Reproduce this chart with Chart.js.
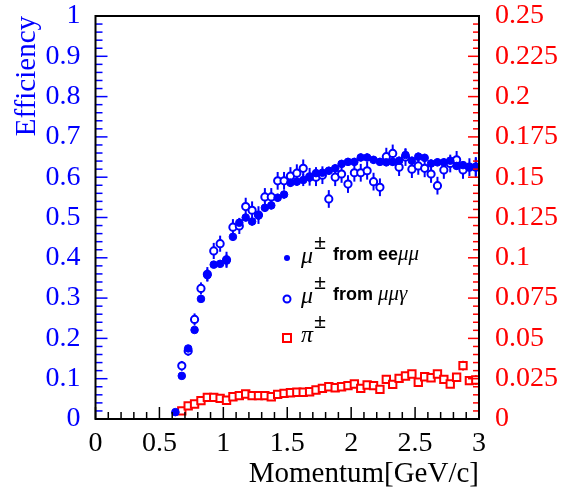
<!DOCTYPE html>
<html>
<head>
<meta charset="utf-8">
<script src="https://cdn.jsdelivr.net/npm/chart.js@4"></script>
<style>
    body { margin: 0; background: #ffffff; }
</style>
</head>
<body>
<canvas id="graphique-efficacite" width="563" height="494"></canvas>
<script>
// Momentum bins (GeV/c)
const momentum = [0.625, 0.675, 0.725, 0.775, 0.825, 0.875, 0.925, 0.975, 1.025, 1.075, 1.125, 1.175,
    1.225, 1.275, 1.325, 1.375, 1.425, 1.475, 1.525, 1.575, 1.625, 1.675, 1.725, 1.775,
    1.825, 1.875, 1.925, 1.975, 2.025, 2.075, 2.125, 2.175, 2.225, 2.275, 2.325, 2.375,
    2.425, 2.475, 2.525, 2.575, 2.625, 2.675, 2.725, 2.775, 2.825, 2.875, 2.925, 2.975];

// mu from ee mu mu (filled circles, left axis)
const muEemumu = [0.017, 0.107, 0.175, 0.221, 0.298, 0.357, 0.383, 0.385, 0.393, 0.452, 0.487, 0.500,
    0.490, 0.505, 0.524, 0.530, 0.549, 0.557, 0.586, 0.589, 0.593, 0.599, 0.610, 0.611,
    0.616, 0.622, 0.633, 0.638, 0.638, 0.649, 0.649, 0.643, 0.638, 0.637, 0.638, 0.641,
    0.655, 0.641, 0.651, 0.648, 0.634, 0.637, 0.637, 0.641, 0.628, 0.630, 0.625, 0.625];
const muEemumuErr = [0.006, 0.008, 0.008, 0.008, 0.008, 0.015, 0.008, 0.008, 0.015, 0.010, 0.010, 0.010,
    0.010, 0.010, 0.010, 0.010, 0.010, 0.010, 0.010, 0.010, 0.015, 0.010, 0.015, 0.010,
    0.010, 0.010, 0.010, 0.010, 0.010, 0.010, 0.010, 0.010, 0.010, 0.010, 0.010, 0.010,
    0.015, 0.010, 0.010, 0.010, 0.010, 0.010, 0.010, 0.010, 0.010, 0.010, 0.010, 0.025];

// mu from mu mu gamma (open circles, left axis)
const muMumugamma = [null, 0.132, 0.169, 0.247, 0.324, 0.359, 0.417, 0.435, 0.395, 0.476, 0.479, 0.527,
    0.518, 0.506, 0.551, 0.551, 0.591, 0.591, 0.603, 0.610, 0.622, 0.601, 0.600, 0.605,
    0.546, 0.600, 0.608, 0.583, 0.611, 0.611, 0.616, 0.589, 0.575, 0.651, 0.659, 0.625,
    0.650, 0.620, 0.628, 0.622, 0.608, 0.579, 0.618, 0.634, 0.643, 0.618, 0.625, 0.625];
const muMumugammaErr = [null, 0.012, 0.012, 0.015, 0.015, 0.018, 0.020, 0.020, 0.020, 0.020, 0.020, 0.022,
    0.022, 0.022, 0.022, 0.022, 0.022, 0.022, 0.022, 0.022, 0.022, 0.022, 0.022, 0.022,
    0.022, 0.022, 0.022, 0.022, 0.022, 0.022, 0.022, 0.022, 0.022, 0.022, 0.022, 0.022,
    0.022, 0.022, 0.022, 0.022, 0.022, 0.022, 0.022, 0.022, 0.022, 0.022, 0.022, 0.022];

// pi (open squares, right axis)
const pion = [null, 0.0050, 0.0081, 0.0093, 0.0114, 0.0134, 0.0134, 0.0128, 0.0116, 0.0138, 0.0145, 0.0155,
    0.0145, 0.0145, 0.0145, 0.0138, 0.0153, 0.0159, 0.0163, 0.0166, 0.0166, 0.0169, 0.0180, 0.0190,
    0.0200, 0.0194, 0.0200, 0.0207, 0.0217, 0.0190, 0.0211, 0.0207, 0.0184, 0.0246, 0.0215, 0.0252,
    0.0267, 0.0279, 0.0228, 0.0262, 0.0256, 0.0279, 0.0246, 0.0217, 0.0259, 0.0331, 0.0238, 0.0242];
const pionErr = [null, 0.001, 0.001, 0.001, 0.001, 0.001, 0.001, 0.001, 0.001, 0.001, 0.001, 0.001,
    0.001, 0.001, 0.001, 0.001, 0.001, 0.001, 0.001, 0.001, 0.001, 0.001, 0.001, 0.001,
    0.001, 0.001, 0.001, 0.001, 0.001, 0.001, 0.001, 0.001, 0.001, 0.001, 0.001, 0.001,
    0.001, 0.001, 0.001, 0.001, 0.001, 0.001, 0.001, 0.001, 0.001, 0.003, 0.001, 0.003];

const BLUE = "#0000ff";
const RED = "#ff0000";
const SERIF = "'Liberation Serif', 'Times New Roman', serif";

function points(values) {
    const result = [];
    for (let i = 0; i < momentum.length; i++) {
        if (values[i] !== null) {
            result.push({ x: momentum[i], y: values[i] });
        }
    }
    return result;
}

function tickLabel(value) {
    return String(Math.round(value * 1000) / 1000);
}

// Vertical error bars, drawn under the markers
const errorBarsPlugin = {
    id: "errorBars",
    beforeDatasetsDraw(chart) {
        const ctx = chart.ctx;
        const sets = [
            { values: muEemumu, errors: muEemumuErr, axis: "y", color: BLUE },
            { values: muMumugamma, errors: muMumugammaErr, axis: "y", color: BLUE },
            { values: pion, errors: pionErr, axis: "y2", color: RED },
        ];
        ctx.save();
        ctx.lineWidth = 2;
        for (let s of sets) {
            const scaleY = chart.scales[s.axis];
            ctx.strokeStyle = s.color;
            for (let i = 0; i < momentum.length; i++) {
                if (s.values[i] === null) continue;
                const px = chart.scales.x.getPixelForValue(momentum[i]);
                ctx.beginPath();
                ctx.moveTo(px, scaleY.getPixelForValue(s.values[i] - s.errors[i]));
                ctx.lineTo(px, scaleY.getPixelForValue(s.values[i] + s.errors[i]));
                ctx.stroke();
            }
        }
        ctx.restore();
    }
};

// Frame with inward ticks, ROOT style
const framePlugin = {
    id: "frame",
    afterDraw(chart) {
        const ctx = chart.ctx;
        const area = chart.chartArea;
        const x = chart.scales.x;
        const y = chart.scales.y;
        const y2 = chart.scales.y2;

        function seg(x1, y1, x2, y2b) {
            ctx.beginPath();
            ctx.moveTo(x1, y1);
            ctx.lineTo(x2, y2b);
            ctx.stroke();
        }

        ctx.save();
        ctx.lineWidth = 1.5;

        ctx.strokeStyle = "#000000";
        for (let i = 0; i <= 30; i++) {
            const px = x.getPixelForValue(i * 0.1);
            seg(px, area.bottom, px, area.bottom - (i % 5 === 0 ? 12 : 7));
        }

        ctx.strokeStyle = BLUE;
        for (let i = 0; i <= 50; i++) {
            const py = y.getPixelForValue(i * 0.02);
            seg(area.left, py, area.left + (i % 5 === 0 ? 12 : 7), py);
        }

        ctx.strokeStyle = RED;
        for (let i = 0; i <= 50; i++) {
            const py = y2.getPixelForValue(i * 0.005);
            seg(area.right, py, area.right - (i % 5 === 0 ? 11 : 6), py);
        }

        ctx.lineWidth = 2;
        ctx.strokeStyle = "#000000";
        ctx.strokeRect(area.left, area.top, area.right - area.left, area.bottom - area.top);
        ctx.restore();
    }
};

// Legend with superscripts, drawn by hand
const legendPlugin = {
    id: "legendeMu",
    afterDraw(chart) {
        const ctx = chart.ctx;
        ctx.save();

        ctx.fillStyle = BLUE;
        ctx.beginPath();
        ctx.arc(287, 258, 3, 0, Math.PI * 2);
        ctx.fill();

        ctx.strokeStyle = BLUE;
        ctx.lineWidth = 2;
        ctx.beginPath();
        ctx.arc(287, 299, 3.5, 0, Math.PI * 2);
        ctx.stroke();

        ctx.strokeStyle = RED;
        ctx.strokeRect(283, 334, 8, 8);

        const lignes = [
            { y: 263, sym: "μ", rest: "from ee", tail: "μμ" },
            { y: 303, sym: "μ", rest: "from ", tail: "μμγ" },
            { y: 342, sym: "π", rest: "", tail: "" },
        ];
        ctx.fillStyle = "#000000";
        ctx.textBaseline = "alphabetic";
        for (let l of lignes) {
            ctx.font = "italic 24px " + SERIF;
            ctx.fillText(l.sym, 301, l.y);
            ctx.font = "bold 22px " + SERIF;
            ctx.fillText("±", 314, l.y - 14);
            let cx = 333;
            if (l.rest) {
                ctx.font = "bold 18px 'Liberation Sans', Arial, sans-serif";
                ctx.fillText(l.rest, cx, l.y - 3);
                cx += ctx.measureText(l.rest).width;
                ctx.font = "italic 21px " + SERIF;
                ctx.fillText(l.tail, cx, l.y - 3);
            }
        }
        ctx.restore();
    }
};

const data = {
    datasets: [
        {
            label: "mu from ee mu mu",
            data: points(muEemumu),
            yAxisID: "y",
            pointStyle: "circle",
            pointRadius: 3.8,
            pointBackgroundColor: BLUE,
            pointBorderColor: BLUE,
            pointBorderWidth: 1,
        },
        {
            label: "mu from mu mu gamma",
            data: points(muMumugamma),
            yAxisID: "y",
            pointStyle: "circle",
            pointRadius: 3.6,
            pointBackgroundColor: "#ffffff",
            pointBorderColor: BLUE,
            pointBorderWidth: 2,
        },
        {
            label: "pi",
            data: points(pion),
            yAxisID: "y2",
            pointStyle: "rect",
            pointRadius: 5.2,
            pointBackgroundColor: "#ffffff",
            pointBorderColor: RED,
            pointBorderWidth: 2,
        },
    ],
};

function fixBox(size, horizontal) {
    return function (scale) {
        if (horizontal) {
            scale.height = size;
        } else {
            scale.width = size;
        }
        scale.paddingTop = 0;
        scale.paddingBottom = 0;
        scale.paddingLeft = 0;
        scale.paddingRight = 0;
    };
}

const config = {
    type: "scatter",
    data: data,
    options: {
        responsive: false,
        animation: false,
        layout: { padding: { top: 16, left: 0, right: 0, bottom: 0 } },
        plugins: {
            legend: { display: false },
            tooltip: { enabled: false },
        },
        scales: {
            x: {
                type: "linear",
                min: 0,
                max: 3,
                afterFit: fixBox(75, true),
                grid: { display: false, drawTicks: false },
                border: { display: false },
                ticks: {
                    stepSize: 0.5,
                    color: "#000000",
                    font: { family: SERIF, size: 28 },
                    padding: 8,
                    maxRotation: 0,
                    callback: tickLabel,
                },
                title: {
                    display: true,
                    text: "Momentum[GeV/c]",
                    align: "end",
                    color: "#000000",
                    font: { family: SERIF, size: 29 },
                    padding: { top: 0, bottom: 2 },
                },
            },
            y: {
                type: "linear",
                position: "left",
                min: 0,
                max: 1,
                afterFit: fixBox(95.5, false),
                grid: { display: false, drawTicks: false },
                border: { display: false },
                ticks: {
                    stepSize: 0.1,
                    color: BLUE,
                    font: { family: SERIF, size: 28 },
                    padding: 15,
                    callback: tickLabel,
                },
                title: {
                    display: true,
                    text: "Efficiency",
                    align: "end",
                    color: BLUE,
                    font: { family: SERIF, size: 29 },
                    padding: { top: 10, bottom: 0 },
                },
            },
            y2: {
                type: "linear",
                position: "right",
                min: 0,
                max: 0.25,
                afterFit: fixBox(84, false),
                grid: { display: false, drawTicks: false },
                border: { display: false },
                ticks: {
                    stepSize: 0.025,
                    color: RED,
                    font: { family: SERIF, size: 28 },
                    padding: 16,
                    callback: tickLabel,
                },
            },
        },
    },
    plugins: [errorBarsPlugin, framePlugin, legendPlugin],
};

const graphique = new Chart(document.querySelector("#graphique-efficacite"), config);
</script>
</body>
</html>
